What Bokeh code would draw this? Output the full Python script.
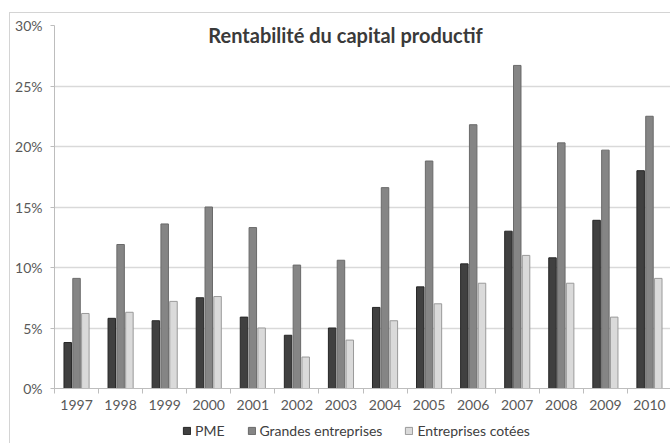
from bokeh.plotting import figure
from bokeh.models import (ColumnDataSource, Range1d, FixedTicker, PrintfTickFormatter,
                          Legend, LegendItem, Label)
from bokeh.layouts import column
from bokeh.transform import dodge
from bokeh.embed import file_html
from bokeh.resources import INLINE

years = ["1997", "1998", "1999", "2000", "2001", "2002", "2003",
         "2004", "2005", "2006", "2007", "2008", "2009", "2010"]
pme = [3.8, 5.8, 5.6, 7.5, 5.9, 4.4, 5.0, 6.7, 8.4, 10.3, 13.0, 10.8, 13.9, 18.0]
grandes = [9.1, 11.9, 13.6, 15.0, 13.3, 10.2, 10.6, 16.6, 18.8, 21.8, 26.7, 20.3, 19.7, 22.5]
cotees = [6.2, 6.3, 7.2, 7.6, 5.0, 2.6, 4.0, 5.6, 7.0, 8.7, 11.0, 8.7, 5.9, 9.1]
series_names = ["PME", "Grandes entreprises", "Entreprises cotées"]
y_ticks = [0, 5, 10, 15, 20, 25, 30]

centers = [i + 0.5 for i in range(len(years))]
src = ColumnDataSource(dict(x=centers, pme=pme, grandes=grandes, cotees=cotees))

FONT = "Lato"
fields = ["pme", "grandes", "cotees"]
offsets = [-0.2, 0.0, 0.2]
fills = ["#404040", "#858585", "#dadada"]
lines = ["#262626", "#6a6a6a", "#9a9a9a"]

p = figure(width=661, height=404, x_range=Range1d(0, len(years)), y_range=Range1d(0, 30),
           output_backend="svg", toolbar_location=None,
           min_border_left=44, min_border_right=0, min_border_top=12, min_border_bottom=29)
p.outline_line_color = None
p.background_fill_color = "white"

w = 0.17
for field, off, fc, lc in zip(fields, offsets, fills, lines):
    p.vbar(x=dodge("x", off), top=field, width=w, source=src,
           fill_color=fc, line_color=lc, line_width=1)

# x axis: labels at centers, tick marks between categories
p.xaxis.ticker = FixedTicker(ticks=centers, minor_ticks=list(range(len(years) + 1)))
p.xaxis.major_label_overrides = {c: y for c, y in zip(centers, years)}
p.xaxis.major_tick_line_color = None
p.xaxis.major_tick_out = 5
p.xaxis.minor_tick_in = 0
p.xaxis.minor_tick_out = 5
p.xaxis.minor_tick_line_color = "#bdbdbd"
p.xaxis.axis_line_color = "#bdbdbd"
p.xaxis.major_label_standoff = 6
p.xgrid.grid_line_color = None

p.yaxis.ticker = FixedTicker(ticks=y_ticks)
p.yaxis.formatter = PrintfTickFormatter(format="%d%%")
p.yaxis.axis_line_color = "#bdbdbd"
p.yaxis.major_tick_line_color = "#bdbdbd"
p.yaxis.major_tick_in = 0
p.yaxis.major_tick_out = 4
p.yaxis.minor_tick_line_color = None
p.yaxis.major_label_standoff = 8
p.ygrid.grid_line_color = "#d9d9d9"
p.ygrid.grid_line_width = 1.5

for ax in (p.xaxis, p.yaxis):
    ax.major_label_text_font = FONT
    ax.major_label_text_font_size = "14px"
    ax.major_label_text_color = "#595959"

title = Label(x=291, y=354, x_units="screen", y_units="screen",
              text="Rentabilité du capital productif", text_font=FONT,
              text_font_style="bold", text_font_size="20px", text_color="#3a3a3a",
              text_align="center", text_baseline="middle")
p.add_layout(title)

# legend strip below the chart (its bars lie outside its visible y range)
leg = figure(width=661, height=26, x_range=Range1d(0, len(years)), y_range=Range1d(100, 101),
             output_backend="svg", toolbar_location=None,
             x_axis_location=None, y_axis_location=None,
             min_border_left=0, min_border_right=0, min_border_top=0, min_border_bottom=0)
leg.outline_line_color = None
leg.xgrid.grid_line_color = None
leg.ygrid.grid_line_color = None
items = []
for name, field, off, fc, lc in zip(series_names, fields, offsets, fills, lines):
    r = leg.vbar(x=dodge("x", off), top=field, width=w, source=src,
                 fill_color=fc, line_color=lc, line_width=1)
    items.append(LegendItem(label=name, renderers=[r]))
legend = Legend(items=items, orientation="horizontal", location=(128, 4),
                padding=0, margin=0, spacing=22, glyph_width=9, glyph_height=9,
                label_standoff=4, label_text_font=FONT, label_text_font_size="14px",
                label_height=14, label_text_color="#404040", border_line_color=None,
                background_fill_alpha=0)
leg.add_layout(legend, "center")

layout = column(p, leg, spacing=0, margin=(12, 0, 0, 9),
                styles={"border-left": "1px solid #d4d4d4", "border-top": "1px solid #d4d4d4"})

open("out.html", "w").write(file_html(layout, INLINE))
